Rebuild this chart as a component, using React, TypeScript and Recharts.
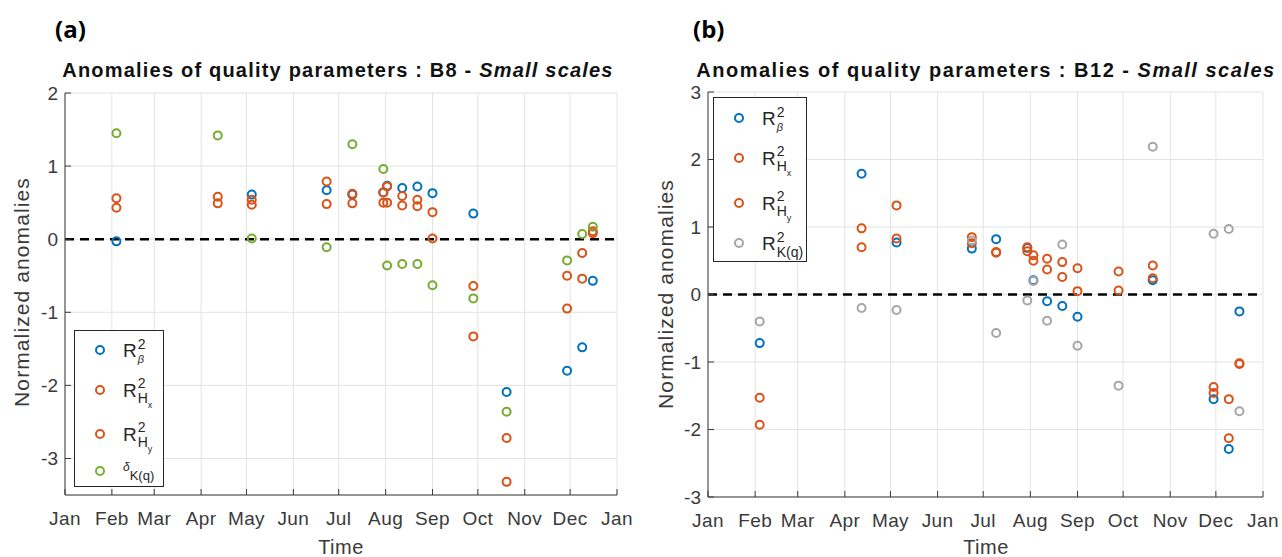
import React from 'react';
import { ScatterChart, Scatter, XAxis, YAxis, CartesianGrid, ReferenceLine } from 'recharts';

// month starts (day of year) and their labels
const monthTicks = [0, 31, 59, 90, 120, 151, 181, 212, 243, 273, 304, 334, 365];
const monthLabels = ['Jan', 'Feb', 'Mar', 'Apr', 'May', 'Jun', 'Jul', 'Aug', 'Sep', 'Oct', 'Nov', 'Dec', 'Jan'];

// (a) B8 - small scales
const daysB8 = [34, 101, 123.5, 173, 190, 210.5, 213, 223, 233, 243, 270, 292, 332, 342, 349];
const betaB8 = [-0.03, null, 0.61, 0.67, 0.61, 0.64, 0.73, 0.7, 0.72, 0.63, 0.35, -2.09, -1.8, -1.48, -0.57];
const hxB8 = [0.56, 0.58, 0.54, 0.79, 0.62, 0.64, 0.72, 0.59, 0.54, 0.37, -0.64, -2.72, -0.5, -0.19, 0.11];
const hyB8 = [0.43, 0.49, 0.47, 0.48, 0.49, 0.5, 0.5, 0.46, 0.45, 0.01, -1.33, -3.32, -0.95, -0.54, 0.08];
const deltaB8 = [1.45, 1.42, 0.01, -0.11, 1.3, 0.96, -0.36, -0.34, -0.34, -0.63, -0.81, -2.36, -0.29, 0.07, 0.17];
const yTicksB8 = [-3, -2, -1, 0, 1, 2];

// (b) B12 - small scales
const daysB12 = [34, 101, 124, 173.5, 189.5, 210, 214, 223, 233, 243, 270, 292.5, 332.5, 342.5, 349.5];
const betaB12 = [-0.72, 1.79, 0.77, 0.68, 0.82, 0.69, 0.21, -0.1, -0.17, -0.33, null, 0.21, -1.55, -2.29, -0.25];
const hxB12 = [-1.53, 0.98, 1.32, 0.85, 0.63, 0.7, 0.58, 0.53, 0.48, 0.39, 0.34, 0.43, -1.37, -1.55, -1.02];
const hyB12 = [-1.93, 0.7, 0.83, 0.76, 0.62, 0.64, 0.5, 0.37, 0.26, 0.05, 0.06, 0.24, -1.46, -2.13, -1.03];
const kqB12 = [-0.4, -0.2, -0.23, 0.8, -0.57, -0.09, 0.2, -0.39, 0.74, -0.76, -1.35, 2.19, 0.9, 0.97, -1.73];
const yTicksB12 = [-3, -2, -1, 0, 1, 2, 3];

const BLUE = '#0072BD';
const ORANGE = '#D95319';
const GREEN = '#77AC30';
const GREY = '#A6A6A6';
const AXIS = '#3a3a3a';
const FONT = '"Liberation Sans", Arial, sans-serif';

const toPoints = (days: number[], vals: (number | null)[]) =>
  days.map((d, i) => ({ x: d, y: vals[i] })).filter(p => p.y !== null);

const ring = (color: string) => (props: any) =>
  <circle cx={props.cx} cy={props.cy} r={4} fill="none" stroke={color} strokeWidth={2} />;

// MATLAB style ticks: pointing inward, labels outside
const BottomTick = (props: any) => {
  const { x, y, index } = props;
  return (
    <g>
      <line x1={x} x2={x} y1={y} y2={y - 6} stroke={AXIS} />
      <text x={x} y={y + 30} textAnchor="middle" fill={AXIS} fontSize={19} letterSpacing={0.4} fontFamily={FONT}>{monthLabels[index]}</text>
    </g>
  );
};
const TopTick = (props: any) => <line x1={props.x} x2={props.x} y1={props.y} y2={props.y + 6} stroke={AXIS} />;
const LeftTick = (props: any) => {
  const { x, y, payload } = props;
  return (
    <g>
      <line x1={x} x2={x + 6} y1={y} y2={y} stroke={AXIS} />
      <text x={x - 7} y={y} dy="0.35em" textAnchor="end" fill={AXIS} fontSize={19} fontFamily={FONT}>{payload.value}</text>
    </g>
  );
};
const RightTick = (props: any) => <line x1={props.x} x2={props.x - 6} y1={props.y} y2={props.y} stroke={AXIS} />;

type Series = { name: string; color: string; data: { x: number; y: number | null }[] };

function Panel({ series, yDomain, yTicks, margin }: { series: Series[]; yDomain: number[]; yTicks: number[]; margin: any }) {
  return (
    <ScatterChart width={1282} height={557} margin={margin} style={{ position: 'absolute', left: 0, top: 0 }}>
      <CartesianGrid stroke="#e3e3e3" />
      <XAxis type="number" dataKey="x" domain={[0, 365]} ticks={monthTicks} interval={0} height={40}
        tickSize={0} tickMargin={0} tickLine={false} tick={<BottomTick />} stroke={AXIS} allowDataOverflow />
      <XAxis xAxisId="top" orientation="top" type="number" domain={[0, 365]} ticks={monthTicks} interval={0} height={0}
        tickSize={0} tickMargin={0} tickLine={false} tick={<TopTick />} stroke={AXIS} allowDataOverflow />
      <YAxis type="number" dataKey="y" domain={yDomain} ticks={yTicks} interval={0} width={50}
        tickSize={0} tickMargin={0} tickLine={false} tick={<LeftTick />} stroke={AXIS} allowDataOverflow />
      <YAxis yAxisId="right" orientation="right" type="number" domain={yDomain} ticks={yTicks} interval={0} width={0}
        tickSize={0} tickMargin={0} tickLine={false} tick={<RightTick />} stroke={AXIS} allowDataOverflow />
      <ReferenceLine y={0} stroke="#000" strokeWidth={2.5} strokeDasharray="9 6" />
      {series.map(s => (
        <Scatter key={s.name} name={s.name} data={s.data} shape={ring(s.color)} isAnimationActive={false} />
      ))}
    </ScatterChart>
  );
}

function RLabel({ sub, subsub, italic }: { sub: string; subsub?: string; italic?: boolean }) {
  return (
    <span style={{ display: 'inline-flex', alignItems: 'center', fontFamily: FONT, color: '#262626' }}>
      <span style={{ fontSize: 19, lineHeight: '19px' }}>R</span>
      <span style={{ display: 'inline-flex', flexDirection: 'column', fontSize: 14, lineHeight: '15px', marginLeft: 1, marginTop: 3 }}>
        <span>2</span>
        <span style={{ fontStyle: italic ? 'italic' : 'normal', fontSize: italic ? 11 : 14 }}>
          {sub}
          {subsub && <span style={{ fontSize: 9, position: 'relative', top: 5 }}>{subsub}</span>}
        </span>
      </span>
    </span>
  );
}

function DeltaLabel() {
  return (
    <span style={{ display: 'inline-flex', alignItems: 'flex-start', fontFamily: FONT, color: '#262626' }}>
      <span style={{ fontSize: 12, fontStyle: 'italic', position: 'relative', top: -4 }}>δ</span>
      <span style={{ fontSize: 13, position: 'relative', top: 4 }}>K(q)</span>
    </span>
  );
}

function LegendBox({ left, top, width, height, rows }: { left: number; top: number; width: number; height: number; rows: { y: number; color: string; label: React.ReactNode }[] }) {
  return (
    <div style={{ position: 'absolute', left, top, width, height, border: '1.5px solid #262626', background: '#fff', boxSizing: 'border-box' }}>
      {rows.map((r, i) => (
        <div key={i} style={{ position: 'absolute', left: 0, top: r.y - 20, height: 40, display: 'flex', alignItems: 'center' }}>
          <svg width={48} height={40} style={{ flex: 'none' }}>
            <circle cx={25} cy={20} r={4} fill="none" stroke={r.color} strokeWidth={2} />
          </svg>
          {r.label}
        </div>
      ))}
    </div>
  );
}

function Title({ cx, text, spacing }: { cx: number; text: string; spacing: number }) {
  return (
    <div style={{ position: 'absolute', left: cx - 320, width: 640, top: 59, textAlign: 'center', fontFamily: FONT, fontWeight: 'bold', fontSize: 20, letterSpacing: spacing, color: '#111', whiteSpace: 'nowrap' }}>
      {text}<i>Small scales</i>
    </div>
  );
}

function YLabel({ cx, cy }: { cx: number; cy: number }) {
  return (
    <div style={{ position: 'absolute', left: cx - 130, top: cy - 12, width: 260, height: 24, lineHeight: '24px', textAlign: 'center', transform: 'rotate(-90deg)', fontFamily: FONT, fontSize: 21, letterSpacing: 1.1, color: AXIS, whiteSpace: 'nowrap' }}>
      Normalized anomalies
    </div>
  );
}

function XLabel({ cx }: { cx: number }) {
  return (
    <div style={{ position: 'absolute', left: cx - 50, width: 100, top: 536, textAlign: 'center', fontFamily: FONT, fontSize: 20, letterSpacing: 0.5, color: AXIS }}>
      Time
    </div>
  );
}

export default function App() {
  const seriesA: Series[] = [
    { name: 'beta', color: BLUE, data: toPoints(daysB8, betaB8) },
    { name: 'Hx', color: ORANGE, data: toPoints(daysB8, hxB8) },
    { name: 'Hy', color: ORANGE, data: toPoints(daysB8, hyB8) },
    { name: 'delta', color: GREEN, data: toPoints(daysB8, deltaB8) },
  ];
  const seriesB: Series[] = [
    { name: 'beta', color: BLUE, data: toPoints(daysB12, betaB12) },
    { name: 'Hx', color: ORANGE, data: toPoints(daysB12, hxB12) },
    { name: 'Hy', color: ORANGE, data: toPoints(daysB12, hyB12) },
    { name: 'Kq', color: GREY, data: toPoints(daysB12, kqB12) },
  ];
  return (
    <div style={{ position: 'absolute', left: 0, top: 0, width: 1282, height: 557, background: '#fff', overflow: 'hidden' }}>
      <Panel series={seriesA} yDomain={[-3.5, 2]} yTicks={yTicksB8} margin={{ top: 93, right: 665, bottom: 22, left: 15 }} />
      <Panel series={seriesB} yDomain={[-3, 3]} yTicks={yTicksB12} margin={{ top: 92, right: 19, bottom: 20, left: 658 }} />

      <div style={{ position: 'absolute', left: 55, top: 12, fontFamily: '"Open Sans", sans-serif', fontWeight: 'bold', fontSize: 24 }}>(a)</div>
      <div style={{ position: 'absolute', left: 693, top: 12, fontFamily: '"Open Sans", sans-serif', fontWeight: 'bold', fontSize: 24 }}>(b)</div>

      <Title cx={338} text="Anomalies of quality parameters : B8 - " spacing={1.2} />
      <Title cx={986} text="Anomalies of quality parameters : B12 - " spacing={1.5} />
      <YLabel cx={22} cy={292} />
      <YLabel cx={666} cy={294} />
      <XLabel cx={341} />
      <XLabel cx={986} />

      <LegendBox left={74} top={330} width={90} height={157} rows={[
        { y: 19, color: BLUE, label: <RLabel sub="β" italic /> },
        { y: 59, color: ORANGE, label: <RLabel sub="H" subsub="x" /> },
        { y: 103, color: ORANGE, label: <RLabel sub="H" subsub="y" /> },
        { y: 140, color: GREEN, label: <DeltaLabel /> },
      ]} />
      <LegendBox left={713} top={97} width={94} height={165} rows={[
        { y: 20, color: BLUE, label: <RLabel sub="β" italic /> },
        { y: 60, color: ORANGE, label: <RLabel sub="H" subsub="x" /> },
        { y: 105, color: ORANGE, label: <RLabel sub="H" subsub="y" /> },
        { y: 145, color: GREY, label: <RLabel sub="K(q)" /> },
      ]} />
    </div>
  );
}
